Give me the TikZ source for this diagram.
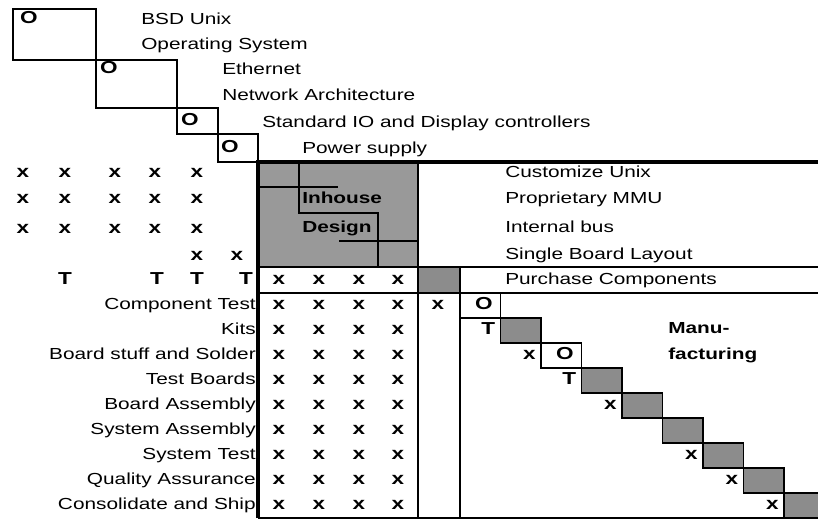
\documentclass[tikz,border=0pt]{standalone}
\usepackage{fontspec}
\setmainfont{Liberation Sans}[FakeStretch=1.3]
\usepackage{tikz}
\usetikzlibrary{positioning}
\definecolor{mydark}{RGB}{0,0,0}
\definecolor{blockgray}{RGB}{153,153,153}
\definecolor{cellgray}{RGB}{140,140,140}
\tikzset{
  rowtext/.style={anchor=mid west, inner sep=0pt, font=\fontsize{12}{14}\selectfont},
  leftlabel/.style={anchor=mid east, inner sep=0pt, font=\fontsize{12}{14}\selectfont},
  grouptext/.style={anchor=mid west, inner sep=0pt, font=\bfseries\fontsize{12}{14}\selectfont},
  dsmmark/.style={anchor=mid, inner sep=0pt, font=\bfseries\fontsize{13}{15}\selectfont},
  gridline/.style={line width=1.1pt, color=mydark},
  border/.style={line width=2.8pt, color=mydark},
  shaded/.style={fill=cellgray, draw=mydark, line width=1.1pt}
}

\begin{document}
\begin{tikzpicture}[x=0.75pt, y=-0.75pt]
  \useasboundingbox (0,0) rectangle (818,520);

  % Off-the-shelf modules
  \draw[gridline] (13,9) rectangle (96,60);
  \draw[gridline] (96,60) rectangle (177,108);
  \draw[gridline] (177,108) rectangle (218,134);
  \draw[gridline] (218,134) rectangle (258,162);
  \node[dsmmark] (o1) at (29,20) {O};
  \node[dsmmark] (o2) at (109,70) {O};
  \node[dsmmark] (o3) at (190,122) {O};
  \node[dsmmark] (o4) at (230,149) {O};
  \node[rowtext] (bsd) at (141,21) {BSD Unix};
  \node[rowtext] (opsys) at (141,46) {Operating System};
  \node[rowtext] (ether) at (222,71) {Ethernet};
  \node[rowtext] (netarch) at (222,97) {Network Architecture};
  \node[rowtext] (stdio) at (262,124) {Standard IO and Display controllers};
  \node[rowtext] (power) at (302,150) {Power supply};

  % Inhouse design block
  \fill[blockgray] (258,162) rectangle (418,267);
  \draw[gridline] (258,187) -- (338,187);
  \draw[gridline] (299,162) -- (299,213) -- (378,213) -- (378,267);
  \draw[gridline] (339,241) -- (418,241);
  \node[grouptext] (inhouse) at (302,200) {Inhouse};
  \node[grouptext] (design) at (302,229) {Design};
  \node[rowtext] (unix) at (505,174) {Customize Unix};
  \node[rowtext] (mmu) at (505,200) {Proprietary MMU};
  \node[rowtext] (bus) at (505,229) {Internal bus};
  \node[rowtext] (layout) at (505,256) {Single Board Layout};

  % Purchase row
  \fill[cellgray] (418,267) rectangle (460,293);
  \node[rowtext] (purchase) at (505,281) {Purchase Components};

  % Grid
  \draw[gridline] (418,162) -- (418,518);
  \draw[gridline] (460,267) -- (460,518);
  \draw[gridline] (258,267) -- (818,267);
  \draw[gridline] (258,293) -- (818,293);
  \draw[gridline] (258,518) -- (818,518);
  \draw[border] (258,518) -- (258,162) -- (818,162);

  % Marks left of the matrix
  \foreach \py in {174,200,230}
    \foreach \px in {23,65,115,155,197}
      \node[dsmmark] (lx-\px-\py) at (\px,\py) {x};
  \node[dsmmark] (lx-197-257) at (197,257) {x};
  \node[dsmmark] (lx-237-257) at (237,257) {x};
  \foreach \px in {65,157,197,246}
    \node[dsmmark] (lt-\px) at (\px,281) {T};

  % Design columns
  \foreach \k in {0,...,9}
    \foreach \px in {279,319,359,398}
      \node[dsmmark] (mx-\k-\px) at (\px,{280.5+\k*25}) {x};
  \node[dsmmark] (px-1) at (438,305.5) {x};

  % Manufacturing steps
  \foreach \r/\lab in {1/Component Test,2/Kits,3/Board stuff and Solder,
      4/Test Boards,5/Board Assembly,6/System Assembly,7/System Test,
      8/Quality Assurance,9/Consolidate and Ship}
    \node[leftlabel] (step-\r) at (256,{305.5+(\r-1)*25}) {\lab};
  \foreach \r in {2,4,5,6,7,8,9}
    \draw[shaded] ({460+(\r-1)*40.5},{293+(\r-1)*25}) rectangle ++(40.5,25);
  \foreach \r in {1,3} {
    \draw[gridline] ({460+(\r-1)*40.5},{293+(\r-1)*25}) rectangle ++(40.5,25);
    \node[dsmmark] (mo-\r) at ({484+(\r-1)*40.5},{305.5+(\r-1)*25}) {O};
  }
  \foreach \r/\m in {2/T,3/x,4/T,5/x,7/x,8/x,9/x}
    \node[dsmmark, anchor=mid east] (mm-\r) at ({460+(\r-1)*40.5-5},{305.5+(\r-1)*25}) {\m};
  \node[grouptext] (manu) at (668,330) {Manu-};
  \node[grouptext] (fact) at (668,356) {facturing};
\end{tikzpicture}
\end{document}
